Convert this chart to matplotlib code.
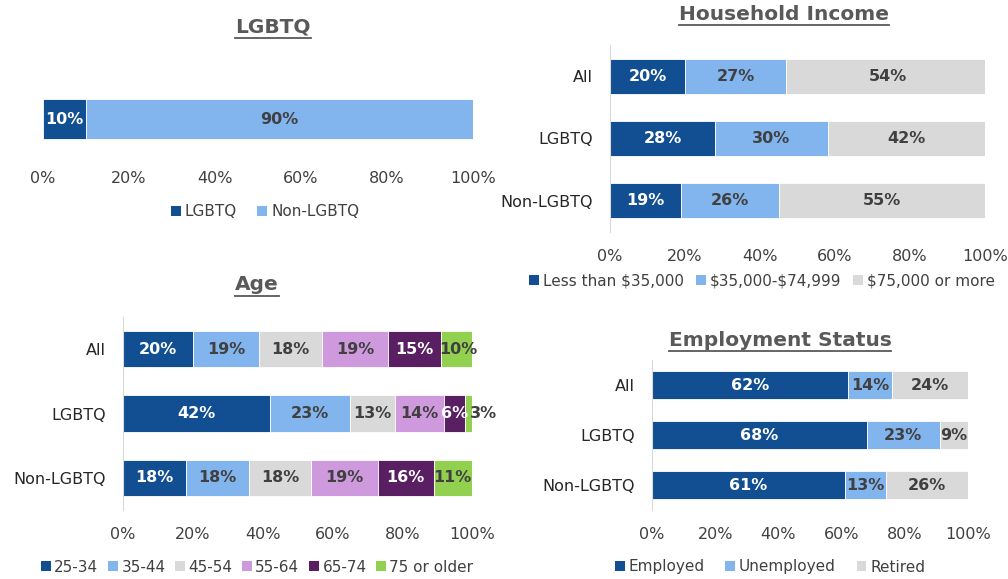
import matplotlib.pyplot as plt
from matplotlib.patches import Patch
from matplotlib.ticker import PercentFormatter

W, H = 1008, 579

groups = ['All', 'LGBTQ', 'Non-LGBTQ']

lgbtq_labels = ['LGBTQ', 'Non-LGBTQ']
lgbtq_values = [10, 90]

income_labels = ['Less than $35,000', '$35,000-$74,999', '$75,000 or more']
income_values = [[20, 28, 19], [27, 30, 26], [54, 42, 55]]

age_labels = ['25-34', '35-44', '45-54', '55-64', '65-74', '75 or older']
age_values = [[20, 42, 18], [19, 23, 18], [18, 13, 18], [19, 14, 19], [15, 6, 16], [10, 3, 11]]

emp_labels = ['Employed', 'Unemployed', 'Retired']
emp_values = [[62, 68, 61], [14, 23, 13], [24, 9, 26]]

DARK = '#114E92'
LIGHT = '#82B5ED'
GREY = '#D9D9D9'
LILAC = '#CE99DD'
PURPLE = '#591F62'
GREEN = '#92D050'
TEXT = '#404040'
dark_fill = {DARK, PURPLE}

plt.rcParams['font.family'] = ['DejaVu Sans']
plt.rcParams['font.size'] = 11.5

fig = plt.figure(figsize=(W / 100, H / 100), dpi=100)


def make_axes(x0, x1, y0, y1):
    return fig.add_axes([x0 / W, 1 - y1 / H, (x1 - x0) / W, (y1 - y0) / H])


def stacked(ax, cats, series, colors, show_y=True):
    left = [0] * len(cats)
    pos = list(range(len(cats)))
    for vals, col in zip(series, colors):
        bars = ax.barh(pos, vals, left=left, height=0.56, color=col,
                       edgecolor='white', linewidth=0.6)
        for b, v in zip(bars, vals):
            x = b.get_x() + b.get_width() / 2
            ha = 'center'
            if v < 5:
                # tiny segment: label drifts to the right like in the original
                ha = 'left'
            ax.text(x, b.get_y() + b.get_height() / 2,
                    f'{v}%', ha=ha, va='center', fontweight='bold',
                    fontsize=11.5, color='white' if col in dark_fill else TEXT)
        left = [a + b for a, b in zip(left, vals)]
    ax.set_xlim(0, 100)
    ax.set_ylim(len(cats) - 0.5, -0.5)
    ax.set_xticks([0, 20, 40, 60, 80, 100])
    ax.xaxis.set_major_formatter(PercentFormatter(decimals=0))
    ax.set_yticks(pos)
    ax.set_yticklabels(cats if show_y else [''] * len(cats))
    ax.tick_params(length=0, labelsize=11.5, colors=TEXT)
    ax.tick_params(axis='x', pad=12)
    ax.tick_params(axis='y', pad=12, labelcolor='#262626')
    for s in ['top', 'right', 'bottom']:
        ax.spines[s].set_visible(False)
    ax.spines['left'].set_color('#D9D9D9')
    ax.spines['left'].set_visible(show_y)


def legend(labels, colors, cx, cy, spacing):
    handles = [Patch(facecolor=c, edgecolor='none') for c in colors]
    labels = [l.replace('$', r'\$') for l in labels]
    fig.legend(handles, labels, loc='center', bbox_to_anchor=(cx / W, 1 - cy / H),
               ncol=len(labels), frameon=False, handlelength=0.65, handleheight=0.65,
               handletextpad=0.25, columnspacing=spacing, fontsize=11, labelcolor=TEXT)


titles = []


def title(s, cx, cy):
    t = fig.text(cx / W, 1 - cy / H, s, ha='center', va='center',
                 fontsize=14.5, fontweight='bold', color='#595959')
    titles.append(t)


# LGBTQ
ax1 = make_axes(43, 473, 83.5, 154.5)
stacked(ax1, [''], [[v] for v in lgbtq_values], [DARK, LIGHT], show_y=False)
ax1.set_yticks([])
legend(lgbtq_labels, [DARK, LIGHT], 265, 212, 1.35)
title('LGBTQ', 273, 27)

# Household income
ax2 = make_axes(610, 985, 45, 232)
stacked(ax2, groups, income_values, [DARK, LIGHT, GREY])
legend(income_labels, [DARK, LIGHT, GREY], 762, 281, 0.8)
title('Household Income', 784, 14)

# Age
ax3 = make_axes(123, 472, 317, 510)
stacked(ax3, groups, age_values, [DARK, LIGHT, GREY, LILAC, PURPLE, GREEN])
legend(age_labels, [DARK, LIGHT, GREY, LILAC, PURPLE, GREEN], 257, 567, 0.6)
title('Age', 257, 285)

# Employment
ax4 = make_axes(652, 968, 360, 510)
stacked(ax4, groups, emp_values, [DARK, LIGHT, GREY])
legend(emp_labels, [DARK, LIGHT, GREY], 770, 567, 1.35)
title('Employment Status', 780, 340)

# underline titles
fig.canvas.draw()
r = fig.canvas.get_renderer()
for t in titles:
    bb = t.get_window_extent(r).transformed(fig.transFigure.inverted())
    y = bb.y0 - 1.5 / H
    fig.add_artist(plt.Line2D([bb.x0, bb.x1], [y, y], color='#595959', linewidth=1.3,
                              transform=fig.transFigure))

fig.savefig('out.png', dpi=100)
